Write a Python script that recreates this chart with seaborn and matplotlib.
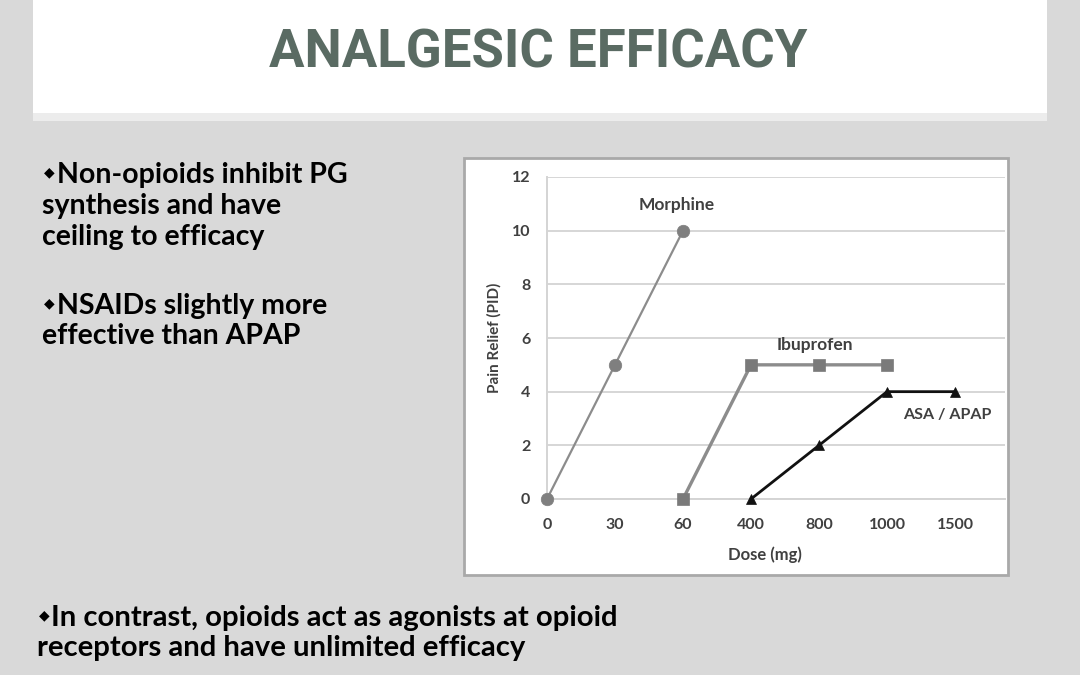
import matplotlib
matplotlib.use("Agg")
import matplotlib.pyplot as plt
import seaborn as sns
import pandas as pd
from matplotlib.patches import Rectangle

# ---------------- data ----------------
dose_labels = ["0", "30", "60", "400", "800", "1000", "1500"]
morphine_dose = ["0", "30", "60"]
morphine_relief = [0, 5, 10]
ibuprofen_dose = ["60", "400", "800", "1000"]
ibuprofen_relief = [0, 5, 5, 5]
asa_dose = ["400", "800", "1000", "1500"]
asa_relief = [0, 2, 4, 4]
y_ticks = [0, 2, 4, 6, 8, 10, 12]

title = "ANALGESIC EFFICACY"
block1 = ["Non-opioids inhibit PG", "synthesis and have", "ceiling to efficacy"]
block2 = ["NSAIDs slightly more", "effective than APAP"]
block3 = ["In contrast, opioids act as agonists at opioid",
          "receptors and have unlimited efficacy"]

# ---------------- style ----------------
sns.set_style("white")
plt.rcParams["font.family"] = ["Lato", "DejaVu Sans"]

W, H = 1080, 675
fig = plt.figure(figsize=(10.8, 6.75), dpi=100)
fig.patch.set_facecolor("#d9d9d9")


def fx(px):
    return px / W


def fy(py):
    return 1 - py / H


# title band
fig.add_artist(Rectangle((fx(33), fy(121)), fx(1047) - fx(33), fy(113) - fy(121),
                         transform=fig.transFigure, facecolor="#ececec",
                         edgecolor="none", zorder=-2))
fig.add_artist(Rectangle((fx(33), fy(113)), fx(1047) - fx(33), fy(0) - fy(113),
                         transform=fig.transFigure, facecolor="white",
                         edgecolor="none", zorder=-2))
fig.text(fx(538), fy(67), title, ha="center", va="baseline",
         family=["Roboto", "DejaVu Sans"], fontweight="bold", fontsize=38,
         color="#5a6b63")

# chart box
fig.add_artist(Rectangle((fx(464), fy(575)), fx(1008) - fx(464), fy(158) - fy(575),
                         transform=fig.transFigure, facecolor="white",
                         edgecolor="#a9a9a9", lw=2, zorder=-1))

# bullet text blocks
bullet_kw = dict(fontsize=10, color="black", va="baseline",
                 family=["DejaVu Sans"])


def block(lines, x_first, x_rest, x_bullet, baselines, size):
    fig.text(fx(x_bullet), fy(baselines[0] - 7), "\u25C6", **bullet_kw)
    for i, (line, b) in enumerate(zip(lines, baselines)):
        fig.text(fx(x_first if i == 0 else x_rest), fy(b), line,
                 fontsize=size, fontweight="bold", color="black", va="baseline")


block(block1, 57, 42, 44, [183, 214, 245], 20.5)
block(block2, 57, 42, 44, [314, 344], 20.5)
block(block3, 51, 37, 39, [626, 656], 21.1)

# ---------------- chart ----------------
ax = fig.add_axes([fx(547), fy(499), fx(1005) - fx(547), fy(177) - fy(499)])
ax.set_facecolor("none")

pos = {d: i for i, d in enumerate(dose_labels)}
df_m = pd.DataFrame({"dose": [pos[d] for d in morphine_dose], "relief": morphine_relief})
df_i = pd.DataFrame({"dose": [pos[d] for d in ibuprofen_dose], "relief": ibuprofen_relief})
df_a = pd.DataFrame({"dose": [pos[d] for d in asa_dose], "relief": asa_relief})

sns.lineplot(data=df_m, x="dose", y="relief", ax=ax, color="#8c8c8c", lw=1.6,
             marker="o", markersize=9, markerfacecolor="#7f7f7f",
             markeredgecolor="#7f7f7f", markeredgewidth=0.5)
sns.lineplot(data=df_i, x="dose", y="relief", ax=ax, color="#8c8c8c", lw=2.4,
             marker="s", markersize=9, markerfacecolor="#7a7a7a",
             markeredgecolor="#7a7a7a", markeredgewidth=0.5)
sns.lineplot(data=df_a, x="dose", y="relief", ax=ax, color="#111111", lw=2.0,
             marker="^", markersize=7.5, markerfacecolor="#111111",
             markeredgecolor="#111111", markeredgewidth=0.5)
for ln in ax.lines:
    ln.set_clip_on(False)
    ln.set_zorder(3)

ax.set_xlim(0, 6.735)
ax.set_ylim(0, 12)
ax.set_xticks(range(len(dose_labels)))
ax.set_xticklabels(dose_labels)
ax.set_yticks(y_ticks)
ax.grid(axis="y", color="#d6d6d6", lw=1.4)
ax.grid(axis="x", visible=False)
for s in ["top", "right"]:
    ax.spines[s].set_visible(False)
for s in ["left", "bottom"]:
    ax.spines[s].set_color("#d4d4d4")
    ax.spines[s].set_linewidth(1.4)

ax.tick_params(axis="y", length=5, width=1.2, color="#d4d4d4", pad=7,
               labelsize=11.5, labelcolor="#404040")
ax.tick_params(axis="x", length=2.5, width=1.0, color="#d4d4d4", pad=11,
               labelsize=11.5, labelcolor="#404040")
for lbl in ax.get_xticklabels() + ax.get_yticklabels():
    lbl.set_fontweight("bold")

ax.set_xlabel("Dose (mg)", fontsize=12, fontweight="bold", color="#404040")
ax.set_ylabel("Pain Relief (PID)", fontsize=11, fontweight="bold", color="#404040")
ax.xaxis.set_label_coords((765 - 547) / 458, (499 - 555) / 322)
ax.xaxis.label.set_va("center")
ax.yaxis.set_label_coords((494 - 547) / 458, 0.5)
ax.yaxis.label.set_va("center")

lab_kw = dict(fontweight="bold", color="#404040", ha="center", va="center")
ax.text(1.91, 10.96, "Morphine", fontsize=12.5, **lab_kw)
ax.text(3.94, 5.74, "Ibuprofen", fontsize=12.5, **lab_kw)
ax.text(5.88, 3.13, "ASA / APAP", fontsize=11.5, **lab_kw)

fig.savefig("out.png", dpi=100, facecolor=fig.get_facecolor())
